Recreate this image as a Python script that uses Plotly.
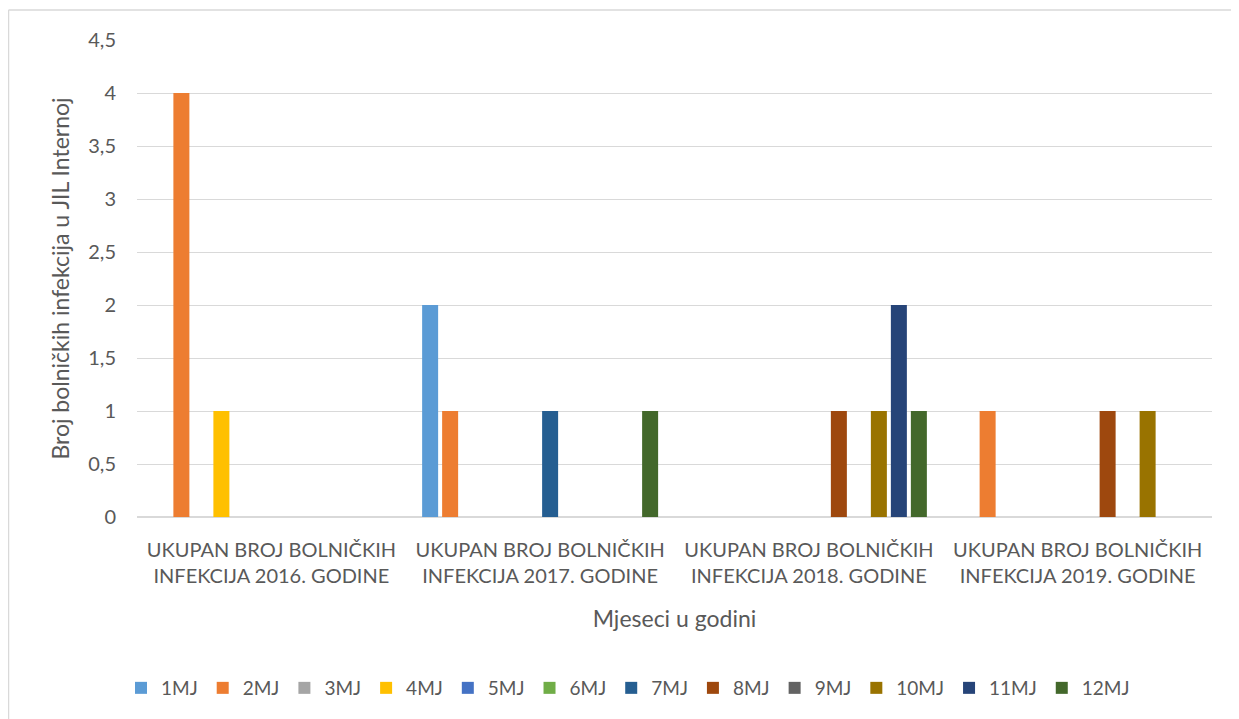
import plotly.graph_objects as go

categories = [
    "UKUPAN BROJ BOLNIČKIH<br>INFEKCIJA 2016. GODINE",
    "UKUPAN BROJ BOLNIČKIH<br>INFEKCIJA 2017. GODINE",
    "UKUPAN BROJ BOLNIČKIH<br>INFEKCIJA 2018. GODINE",
    "UKUPAN BROJ BOLNIČKIH<br>INFEKCIJA 2019. GODINE",
]
months = ["1MJ", "2MJ", "3MJ", "4MJ", "5MJ", "6MJ",
          "7MJ", "8MJ", "9MJ", "10MJ", "11MJ", "12MJ"]

# values per month series, one per category (2016..2019)
m1 = [0, 2, 0, 0]
m2 = [4, 1, 0, 1]
m3 = [0, 0, 0, 0]
m4 = [1, 0, 0, 0]
m5 = [0, 0, 0, 0]
m6 = [0, 0, 0, 0]
m7 = [0, 1, 0, 0]
m8 = [0, 0, 1, 1]
m9 = [0, 0, 0, 0]
m10 = [0, 0, 1, 1]
m11 = [0, 0, 2, 0]
m12 = [0, 1, 1, 0]
series = [m1, m2, m3, m4, m5, m6, m7, m8, m9, m10, m11, m12]

colors = ["#5B9BD5", "#ED7D31", "#A5A5A5", "#FFC000", "#4472C4", "#70AD47",
          "#255E91", "#9E480E", "#636363", "#997300", "#264478", "#43682B"]

# page body has an 8px margin, so the figure is 8px smaller
W, H = 1231, 711
L, R, T, B = 129, 27, 32, 202

fig = go.Figure()
for name, vals, col in zip(months, series, colors):
    fig.add_trace(go.Bar(x=categories, y=vals, name=name,
                         marker=dict(color=col, line=dict(width=0))))

txt = "#595959"
font = "Lato"

fig.update_layout(
    width=W, height=H,
    margin=dict(l=L, r=R, t=T, b=B),
    barmode="group", bargap=0.107, bargroupgap=0.2,
    separators=", ",
    plot_bgcolor="white", paper_bgcolor="white",
    font=dict(family=font, color=txt, size=20),
    xaxis=dict(
        title=dict(text="Mjeseci u godini", font=dict(size=23), standoff=24),
        tickfont=dict(size=20), showline=False, ticks="", ticklabelstandoff=19,
    ),
    yaxis=dict(
        title=dict(text="Broj bolničkih infekcija u JIL Internoj", font=dict(size=23), standoff=12),
        range=[0, 4.5], dtick=0.5, tickfont=dict(size=20),
        gridcolor="#D9D9D9", gridwidth=1, zeroline=True, zerolinecolor="#D9D9D9",
        ticks="", ticklabelstandoff=20,
    ),
    legend=dict(orientation="h", xref="container", yref="container",
                x=(628 - 8) / W, xanchor="center", y=1 - (688 - 8) / H, yanchor="middle",
                font=dict(size=19), itemwidth=30, traceorder="normal"),
)

# outer chart border (only left and top edges visible in the frame)
fig.add_shape(type="line", xref="paper", yref="paper",
              x0=(0.5 - L) / (W - L - R), x1=(0.5 - L) / (W - L - R),
              y0=(H - B - 720) / (H - T - B), y1=(H - B - 2) / (H - T - B),
              line=dict(color="#D9D9D9", width=1.5))
fig.add_shape(type="line", xref="paper", yref="paper",
              x0=(0.5 - L) / (W - L - R), x1=(1240 - L) / (W - L - R),
              y0=(H - B - 2) / (H - T - B), y1=(H - B - 2) / (H - T - B),
              line=dict(color="#D9D9D9", width=1.5))

fig.write_html("out.html")
